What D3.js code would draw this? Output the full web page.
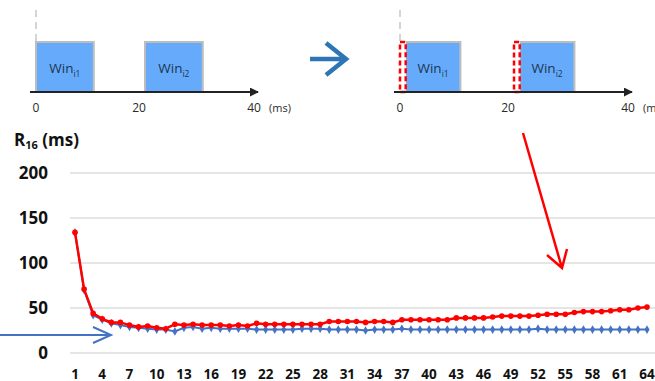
<!DOCTYPE html>
<html>
<head>
<meta charset="utf-8">
<script src="https://cdn.jsdelivr.net/npm/d3@7"></script>
<style>
  body { margin: 0; background: #fff; }
  svg { display: block; font-family: "Open Sans", sans-serif; }
</style>
</head>
<body>
<div id="chart"></div>
<script>
// x categories 1..64
const runs = d3.range(1, 65)
const xTickLabels = runs.filter(d => (d - 1) % 3 === 0)
const yTicks = [0, 50, 100, 150, 200]

// red series (after shifting)
const redValues = [134, 71, 44, 38, 34, 34, 31, 29, 30, 28, 27, 32, 31, 32, 31, 31,
  31, 30, 31, 30, 33, 32, 32, 32, 32, 32, 32, 32, 35, 35, 35, 35, 34, 35, 35, 34,
  37, 37, 37, 37, 37, 37, 39, 39, 39, 39, 40, 41, 41, 41, 41, 42, 43, 43, 43, 45,
  46, 46, 46, 47, 48, 48, 50, 51]
// blue series (original)
const blueValues = [134, 70, 42, 37, 33, 31, 29, 28, 27, 26, 26, 24, 28, 29, 27, 28,
  27, 27, 27, 27, 26, 26, 26, 26, 26, 27, 27, 27, 26, 26, 26, 26, 25, 26, 26, 26,
  27, 26, 26, 26, 26, 26, 26, 26, 26, 26, 26, 26, 26, 26, 26, 27, 26, 26, 26, 26,
  26, 26, 26, 26, 26, 26, 26, 26]

// window diagram (ms)
const windows = [[0, 10.6], [20, 30.6]]
const windowNames = ["i1", "i2"]
const timeTicks = [0, 20, 40]
const shiftMs = 1

const width = 655, height = 381

const svg = d3.select("#chart").append("svg")
  .attr("width", width)
  .attr("height", height)

const defs = svg.append("defs")
defs.append("marker")
  .attr("id", "axisArrow")
  .attr("viewBox", "0 -5 10 10")
  .attr("refX", 9).attr("refY", 0)
  .attr("markerWidth", 5).attr("markerHeight", 5)
  .attr("markerUnits", "strokeWidth")
  .attr("orient", "auto")
  .append("path")
  .attr("d", "M0,-5L10,0L0,5Z")
  .attr("fill", "#222")

// ---------- top diagram ----------
function drawPanel(x0, x40, shifted) {
  const t = d3.scaleLinear().domain([0, 40]).range([x0, x40])
  const g = svg.append("g")
  const top = 42, base = 92

  // dashed guide at time 0
  g.append("line")
    .attr("x1", t(0)).attr("x2", t(0))
    .attr("y1", 10).attr("y2", top - 1)
    .attr("stroke", "#c8c8c8").attr("stroke-width", 1.5)
    .attr("stroke-dasharray", "7,5")

  windows.forEach((w, i) => {
    const s = shifted ? shiftMs : 0
    g.append("rect")
      .attr("x", t(w[0] + s)).attr("y", top)
      .attr("width", t(w[1]) - t(w[0] + s))
      .attr("height", base - top)
      .attr("fill", "#66abfb")
      .attr("stroke", "#bdbdbd").attr("stroke-width", 2)
    if (shifted) {
      g.append("rect")
        .attr("x", t(w[0])).attr("y", top)
        .attr("width", t(w[0] + s) - t(w[0]))
        .attr("height", base - top)
        .attr("fill", "#fff")
        .attr("stroke", "#ff0000").attr("stroke-width", 2.5)
        .attr("stroke-dasharray", "5,3")
    }
    const txt = g.append("text")
      .attr("x", (t(w[0] + s) + t(w[1])) / 2)
      .attr("y", 73)
      .attr("text-anchor", "middle")
      .attr("font-size", 13.5)
      .attr("fill", "#1d3550")
    txt.append("tspan").text("Win")
    txt.append("tspan").attr("font-size", 8.5).attr("dy", 4).text(windowNames[i])
  })

  g.append("line")
    .attr("x1", t(0) - 6).attr("x2", t(40) + 4)
    .attr("y1", base).attr("y2", base)
    .attr("stroke", "#222").attr("stroke-width", 1.8)
    .attr("marker-end", "url(#axisArrow)")

  timeTicks.forEach(v => {
    g.append("text")
      .attr("x", t(v) - (v === 20 ? 6 : 0))
      .attr("y", 112)
      .attr("text-anchor", "middle")
      .attr("font-size", 12)
      .attr("fill", "#2a2a2a")
      .text(v)
  })
  g.append("text")
    .attr("x", t(40) + 15).attr("y", 112)
    .attr("font-size", 11).attr("fill", "#2a2a2a")
    .text("(ms)")
}

drawPanel(36, 254, false)
drawPanel(400, 628, true)

// blue arrow between panels
svg.append("path")
  .attr("d", "M310,59H346M326,43L346,59L326,75")
  .attr("fill", "none")
  .attr("stroke", "#2e75b6").attr("stroke-width", 4.5)
  .attr("stroke-linejoin", "miter")

// ---------- line chart ----------
const x = d3.scalePoint().domain(runs).range([75, 647])
const y = d3.scaleLinear().domain([0, 200]).range([353, 173])

svg.append("g")
  .selectAll("line")
  .data(yTicks)
  .join("line")
  .attr("x1", 70).attr("x2", width)
  .attr("y1", d => y(d)).attr("y2", d => y(d))
  .attr("stroke", "#dcdcdc").attr("stroke-width", 1.5)

svg.append("g")
  .selectAll("text")
  .data(yTicks)
  .join("text")
  .attr("x", 48)
  .attr("y", d => y(d) + 6)
  .attr("text-anchor", "end")
  .attr("font-size", 17)
  .attr("font-weight", "bold")
  .attr("fill", "#111")
  .text(d => d)

svg.append("g")
  .selectAll("text")
  .data(xTickLabels)
  .join("text")
  .attr("x", d => x(d))
  .attr("y", 379)
  .attr("text-anchor", "middle")
  .attr("font-size", 13.5)
  .attr("font-weight", "bold")
  .attr("fill", "#111")
  .text(d => d)

const title = svg.append("text")
  .attr("x", 14).attr("y", 146)
  .attr("font-size", 17)
  .attr("font-weight", "bold")
  .attr("fill", "#111")
title.append("tspan").text("R")
title.append("tspan").attr("font-size", 11).attr("dy", 3).text("16")
title.append("tspan").attr("dy", -3).text(" (ms)")

const line = d3.line()
  .x((d, i) => x(runs[i]))
  .y(d => y(d))

svg.append("path")
  .datum(blueValues)
  .attr("d", line)
  .attr("fill", "none")
  .attr("stroke", "#4472c4").attr("stroke-width", 2)

svg.append("g")
  .selectAll("path")
  .data(blueValues)
  .join("path")
  .attr("d", d3.symbol(d3.symbolDiamond, 22))
  .attr("transform", (d, i) => `translate(${x(runs[i])},${y(d)})`)
  .attr("fill", "#4472c4")

svg.append("path")
  .datum(redValues)
  .attr("d", line)
  .attr("fill", "none")
  .attr("stroke", "#ff0000").attr("stroke-width", 2.5)

svg.append("g")
  .selectAll("circle")
  .data(redValues)
  .join("circle")
  .attr("cx", (d, i) => x(runs[i]))
  .attr("cy", d => y(d))
  .attr("r", 2.8)
  .attr("fill", "#ff0000")

// annotation arrows
svg.append("path")
  .attr("d", "M523,133L562,268M547,255L562,268L567,249")
  .attr("fill", "none")
  .attr("stroke", "#ff0000").attr("stroke-width", 2.5)

svg.append("path")
  .attr("d", "M0,335H111M93,327L111,335L93,343")
  .attr("fill", "none")
  .attr("stroke", "#4472c4").attr("stroke-width", 2)
</script>
</body>
</html>
